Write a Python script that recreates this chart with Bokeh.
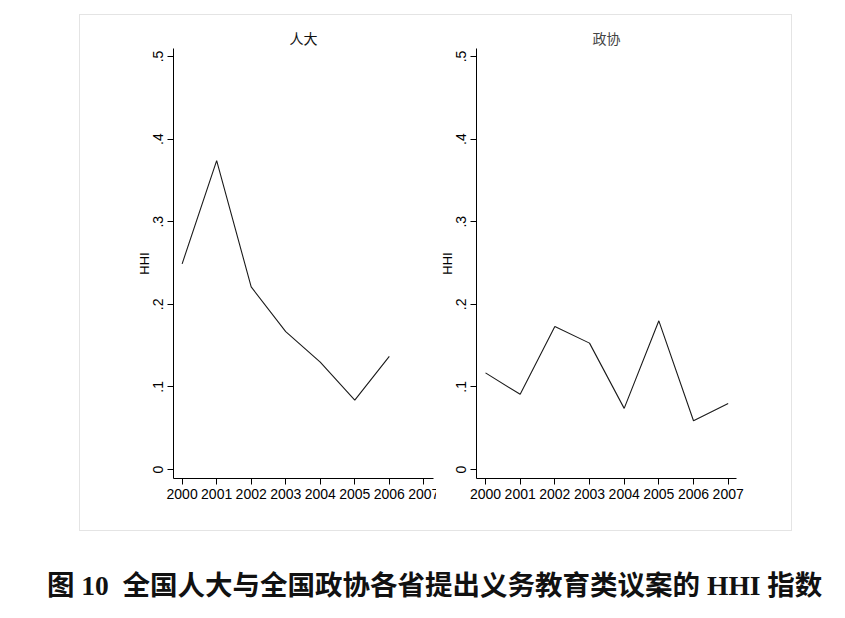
from bokeh.plotting import figure
from bokeh.layouts import row, column
from bokeh.models import Range1d, FixedTicker, Div
from bokeh.embed import file_html
from bokeh.resources import INLINE

# ---- data ----
years_npc = [2000, 2001, 2002, 2003, 2004, 2005, 2006]
hhi_npc = [0.249, 0.374, 0.221, 0.167, 0.130, 0.084, 0.137]

years_cppcc = [2000, 2001, 2002, 2003, 2004, 2005, 2006, 2007]
hhi_cppcc = [0.117, 0.091, 0.173, 0.153, 0.074, 0.180, 0.059, 0.080]

x_ticks = [2000, 2001, 2002, 2003, 2004, 2005, 2006, 2007]
y_ticks = [0, 0.1, 0.2, 0.3, 0.4, 0.5]
y_tick_labels = ["0", ".1", ".2", ".3", ".4", ".5"]
panel_titles = ["人大", "政协"]
y_label = "HHI"
caption = "图 10&nbsp; 全国人大与全国政协各省提出义务教育类议案的 HHI 指数"

SANS = "Liberation Sans"
CJK = "Noto Sans CJK SC"


def make_panel(xs, ys, title, x_range, min_left, min_right, title_color,
               styles=None, margin=None):
    p = figure(
        output_backend="svg", toolbar_location=None,
        frame_width=260, frame_height=430,
        min_border_left=min_left, min_border_right=min_right,
        min_border_top=33, min_border_bottom=52,
        x_range=x_range, y_range=Range1d(-0.0109, 0.5097),
        title=title,
        styles=styles or {},
        margin=margin,
    )
    p.title.text_font = CJK
    p.title.text_font_size = "14px"
    p.title.text_font_style = "normal"
    p.title.text_color = title_color
    p.title.align = "center"
    p.title.standoff = 2
    p.outline_line_color = None
    p.background_fill_color = "white"
    p.border_fill_color = "white"
    p.xgrid.visible = False
    p.ygrid.visible = False

    p.line(xs, ys, line_color="#1a1a1a", line_width=1.1)

    for ax in (p.xaxis[0], p.yaxis[0]):
        ax.axis_line_color = "black"
        ax.axis_line_width = 1
        ax.major_tick_line_color = "black"
        ax.major_tick_in = 0
        ax.major_tick_out = 6
        ax.minor_tick_line_color = None
        ax.major_label_text_font = SANS
        ax.major_label_text_font_size = "14px"
        ax.major_label_text_color = "black"

    p.xaxis.ticker = FixedTicker(ticks=x_ticks)
    p.xaxis.major_label_standoff = 4

    p.yaxis.ticker = FixedTicker(ticks=y_ticks)
    p.yaxis.major_label_overrides = {t: l for t, l in zip(y_ticks, y_tick_labels)}
    p.yaxis.major_label_orientation = "vertical"
    p.yaxis.major_label_standoff = 4
    p.yaxis.axis_label = y_label
    p.yaxis.axis_label_text_font = SANS
    p.yaxis.axis_label_text_font_size = "13px"
    p.yaxis.axis_label_text_font_style = "normal"
    p.yaxis.axis_label_text_color = "black"
    p.yaxis.axis_label_standoff = -1
    return p


# left panel: wider canvas on the right, visually clipped like the original
p1 = make_panel(years_npc, hhi_npc, panel_titles[0],
                Range1d(1999.75, 2007.28), 93, 25, "#111111",
                styles={"clip-path": "inset(0px 22px 0px 0px)"})
p2 = make_panel(years_cppcc, hhi_cppcc, panel_titles[1],
                Range1d(1999.74, 2007.24), 17, 55, "#444444",
                margin=(0, 0, 0, -22))

panels = row(p1, p2, margin=(14, 0, 0, 79),
             styles={"border": "1px solid #e4e4e4"})

cap = Div(
    text=('<div style="font-family: \'Liberation Serif\', \'Noto Sans CJK SC\';'
          ' font-size: 27.5px; font-weight: bold; color: #111; line-height: 28px;'
          ' white-space: nowrap;">' + caption + '</div>'),
    width=800, height=50, margin=(41, 0, 0, 47),
)

layout = column(panels, cap)

with open("out.html", "w") as f:
    f.write(file_html(layout, INLINE))
